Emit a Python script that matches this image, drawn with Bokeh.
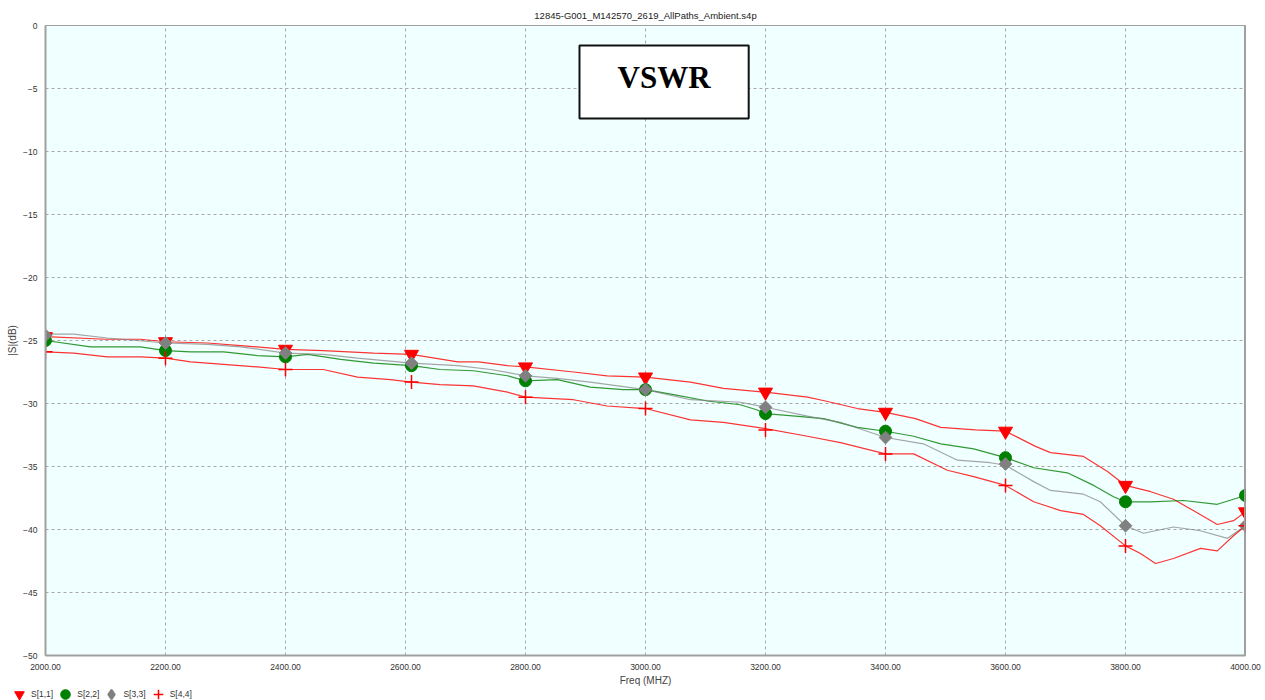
import math
from bokeh.plotting import figure
from bokeh.layouts import column
from bokeh.models import (Range1d, FixedTicker, PrintfTickFormatter, Legend,
                          LegendItem, BoxAnnotation, Label, Span)
from bokeh.embed import file_html
from bokeh.resources import INLINE

chart_title = "12845-G001_M142570_2619_AllPaths_Ambient.s4p"
badge_text = "VSWR"
x_label = "Freq (MHZ)"
y_label = "|S|(dB)"
x_ticks = [2000, 2200, 2400, 2600, 2800, 3000, 3200, 3400, 3600, 3800, 4000]
y_ticks = [-50, -45, -40, -35, -30, -25, -20, -15, -10, -5, 0]
series_names = ["S[1,1]", "S[2,2]", "S[3,3]", "S[4,4]"]

# traces (MHz, dB)
s11_freq = [2000, 2100, 2158, 2200, 2270, 2325, 2400, 2463, 2547, 2610, 2687, 2722, 2770, 2800,
            2880, 2936, 3000, 3075, 3130, 3200, 3270, 3300, 3353, 3400, 3450, 3492, 3550, 3600,
            3650, 3675, 3730, 3770, 3800, 3842, 3880, 3913, 3953, 3980, 4000]
s11_db = [-24.7, -24.9, -24.9, -25.1, -25.2, -25.4, -25.7, -25.8, -26.0, -26.1, -26.7, -26.7,
          -27.0, -27.1, -27.5, -27.8, -27.9, -28.3, -28.8, -29.1, -29.5, -29.8, -30.4, -30.7,
          -31.2, -31.9, -32.1, -32.2, -33.4, -33.9, -34.2, -35.4, -36.5, -37.0, -37.6, -38.5,
          -39.6, -39.3, -38.6]

s22_freq = [2000, 2075, 2158, 2200, 2242, 2297, 2353, 2400, 2437, 2492, 2547, 2610, 2658, 2713,
            2770, 2800, 2853, 2908, 2963, 3000, 3047, 3103, 3158, 3185, 3200, 3250, 3297, 3353,
            3400, 3447, 3492, 3547, 3600, 3647, 3703, 3747, 3780, 3800, 3842, 3897, 3953, 4000]
s22_db = [-25.0, -25.5, -25.5, -25.8, -25.9, -25.9, -26.2, -26.3, -26.1, -26.5, -26.8, -27.0,
          -27.3, -27.4, -27.8, -28.2, -28.1, -28.7, -28.9, -28.9, -29.3, -29.8, -30.1, -30.5,
          -30.8, -31.0, -31.2, -31.9, -32.2, -32.6, -33.2, -33.6, -34.3, -35.1, -35.5, -36.5,
          -37.4, -37.8, -37.8, -37.7, -38.0, -37.3]

s33_freq = [2000, 2047, 2103, 2200, 2270, 2325, 2400, 2463, 2520, 2610, 2687, 2742, 2800, 2853,
            2908, 3000, 3075, 3158, 3200, 3270, 3325, 3357, 3400, 3463, 3520, 3575, 3600, 3647,
            3675, 3730, 3758, 3800, 3830, 3880, 3925, 3970, 4000]
s33_db = [-24.5, -24.5, -24.8, -25.2, -25.3, -25.5, -26.0, -26.1, -26.4, -26.8, -27.0, -27.3,
          -27.8, -28.0, -28.3, -28.9, -29.7, -29.9, -30.3, -31.0, -31.5, -32.0, -32.7, -33.2,
          -34.5, -34.7, -34.9, -36.2, -36.9, -37.2, -37.8, -39.7, -40.3, -39.8, -40.1, -40.7,
          -39.7]

s44_freq = [2000, 2047, 2103, 2158, 2200, 2242, 2297, 2353, 2400, 2463, 2520, 2575, 2610, 2658,
            2713, 2770, 2800, 2880, 2936, 3000, 3075, 3130, 3200, 3270, 3325, 3400, 3447, 3503,
            3547, 3600, 3647, 3692, 3730, 3758, 3800, 3825, 3850, 3880, 3925, 3953, 3980, 4000]
s44_db = [-25.9, -26.0, -26.3, -26.3, -26.4, -26.7, -26.9, -27.1, -27.3, -27.3, -27.9, -28.1,
          -28.3, -28.5, -28.6, -29.1, -29.5, -29.7, -30.2, -30.4, -31.3, -31.5, -32.0, -32.6,
          -33.1, -34.0, -34.0, -35.3, -35.8, -36.5, -37.8, -38.5, -38.8, -39.7, -41.3, -41.9,
          -42.7, -42.3, -41.5, -41.7, -40.5, -39.7]

# marker points
marker_freq = [2000, 2200, 2400, 2610, 2800, 3000, 3200, 3400, 3600, 3800, 4000]
s11_mk = [-24.7, -25.1, -25.7, -26.1, -27.1, -27.9, -29.1, -30.7, -32.2, -36.5, -38.6]
s22_mk = [-25.0, -25.8, -26.3, -27.0, -28.2, -28.9, -30.8, -32.2, -34.3, -37.8, -37.3]
s33_mk = [-24.6, -25.2, -26.0, -26.8, -27.8, -28.9, -30.3, -32.7, -34.8, -39.7, -39.7]
s44_mk = [-25.9, -26.4, -27.3, -28.3, -29.5, -30.4, -32.1, -34.0, -36.5, -41.3, -39.7]

# badge box (data units)
badge_left, badge_right, badge_top, badge_bottom = 2890, 3172, -1.59, -7.38

FONT = "Liberation Sans"
marker_styles = [
    dict(marker="inverted_triangle", size=14, fill_color="#FF0000", line_color="#FF0000"),
    dict(marker="circle", size=12, fill_color="#008000", line_color="#008000"),
    dict(marker="square", size=9, angle=math.pi / 4, fill_color="#808080", line_color="#808080"),
    dict(marker="cross", size=14, line_color="#FF0000", line_width=1.5),
]
legend_styles = [
    dict(marker="inverted_triangle", size=14, fill_color="#FF0000", line_color="#FF0000"),
    dict(marker="circle", size=12, fill_color="#008000", line_color="#008000"),
    dict(marker="diamond", size=15, fill_color="#808080", line_color="#808080", line_width=2),
    dict(marker="cross", size=14, line_color="#FF0000", line_width=1.5),
]
marker_values = [s11_mk, s22_mk, s33_mk, s44_mk]

x_rng = Range1d(2000, 4000)
p = figure(width=1265, height=688, output_backend="svg", toolbar_location=None,
           x_range=x_rng, y_range=Range1d(-50, 0),
           min_border_left=45, min_border_right=20, min_border_top=25, min_border_bottom=31,
           background_fill_color="#F0FFFF", border_fill_color="white")

p.title.text = chart_title
p.title.align = "center"
p.title.text_font = FONT
p.title.text_font_size = "9.5px"
p.title.text_font_style = "normal"
p.title.text_color = "#222222"
p.title.standoff = 10

p.outline_line_color = "#A0A0A0"
p.outline_line_width = 1

p.xaxis.ticker = FixedTicker(ticks=x_ticks)
p.yaxis.ticker = FixedTicker(ticks=y_ticks)
p.xaxis.formatter = PrintfTickFormatter(format="%.2f")
for ax in (p.xaxis, p.yaxis):
    ax.major_tick_line_color = None
    ax.minor_tick_line_color = None
    ax.axis_line_color = "#A0A0A0"
    ax.axis_line_width = 2
    ax.major_label_text_font = FONT
    ax.major_label_text_font_size = "8.5px"
    ax.major_label_text_color = "#333333"
    ax.axis_label_text_font = FONT
    ax.axis_label_text_font_style = "normal"
    ax.axis_label_text_color = "#444444"
p.xaxis.axis_label = x_label
p.yaxis.axis_label = y_label
p.xaxis.axis_label_text_font_size = "10px"
p.yaxis.axis_label_text_font_size = "10px"
p.xaxis.major_label_standoff = 2
p.xaxis.axis_label_standoff = 2
p.yaxis.major_label_standoff = 2
p.yaxis.axis_label_standoff = 2

p.grid.grid_line_color = "#A8A8A8"
p.grid.grid_line_dash = "3 3"
p.grid.grid_line_width = 1

p.add_layout(Span(location=4000, dimension="height", line_color="#A0A0A0", line_width=3))

# lines
p.line(s11_freq, s11_db, line_color="#FF0000", line_width=1.2, line_alpha=0.8)
p.line(s22_freq, s22_db, line_color="#008000", line_width=1.2, line_alpha=0.8)
p.line(s33_freq, s33_db, line_color="#808080", line_width=1.2, line_alpha=0.7)
p.line(s44_freq, s44_db, line_color="#FF0000", line_width=1.2, line_alpha=0.8)

# markers
for vals, st in zip(marker_values, marker_styles):
    p.scatter(marker_freq, vals, **st)

# VSWR badge
p.add_layout(BoxAnnotation(left=badge_left, right=badge_right, top=badge_top, bottom=badge_bottom,
                           fill_color="white", fill_alpha=1.0, line_color="#111111",
                           line_width=2, line_alpha=1.0))
p.add_layout(Label(x=(badge_left + badge_right) / 2, y=(badge_top + badge_bottom) / 2 + 0.35,
                   text=badge_text, text_font="Liberation Serif", text_font_style="bold",
                   text_font_size="31px", text_align="center", text_baseline="middle",
                   text_color="#000000"))

# legend strip (separate figure; its marker renderers lie outside its visible range)
lf = figure(width=1265, height=12, output_backend="svg", toolbar_location=None,
            x_range=x_rng, y_range=Range1d(100, 110), min_border=0,
            min_border_left=0, min_border_right=0, min_border_top=0, min_border_bottom=0,
            x_axis_location=None, y_axis_location=None, border_fill_color="white",
            background_fill_color="white")
lf.outline_line_color = None
lf.grid.visible = False

legend_x = 0
if hasattr(lf, "frame_align"):
    lf.frame_align = False
    p.frame_align = False
    legend_x = 7

items = []
for name, vals, st in zip(series_names, marker_values, legend_styles):
    r = lf.scatter(marker_freq, vals, **st)
    items.append(LegendItem(label=name, renderers=[r]))
legend = Legend(items=items, orientation="horizontal", location=(legend_x, -6),
                glyph_width=24, glyph_height=24, label_standoff=0, spacing=0,
                padding=0, margin=0, label_text_font=FONT,
                label_text_font_size="8.5px", label_text_color="#333333",
                background_fill_alpha=0, border_line_alpha=0)
lf.add_layout(legend)

open("out.html", "w").write(file_html(column(p, lf, spacing=0), INLINE))
